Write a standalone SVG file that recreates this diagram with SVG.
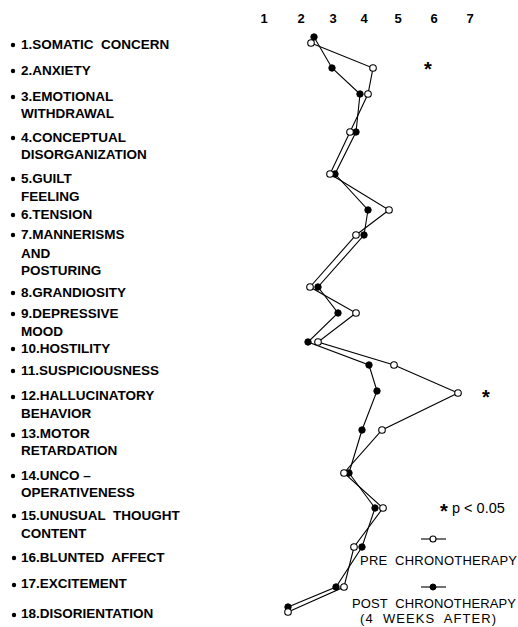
<svg xmlns="http://www.w3.org/2000/svg" width="518" height="627" viewBox="0 0 518 627">
<style>
text{font-family:"Liberation Sans",Arial,sans-serif;fill:#000}
.lbl{font-size:13.5px;font-weight:bold}
.ax{font-size:13px;font-weight:bold}
.lg{font-size:13px}
.star{font-size:20px;font-weight:bold}
.bul{fill:#000}
.line{fill:none;stroke:#000;stroke-width:1.1}
.op{fill:#fff;stroke:#000;stroke-width:1.1}
.fi{fill:#000;stroke:#000;stroke-width:1}
</style>
<rect width="518" height="627" fill="#fff"/>
<g id="axis">
<text class="ax" x="264" y="23" text-anchor="middle">1</text>
<text class="ax" x="301" y="23" text-anchor="middle">2</text>
<text class="ax" x="333" y="23" text-anchor="middle">3</text>
<text class="ax" x="364" y="23" text-anchor="middle">4</text>
<text class="ax" x="398" y="23" text-anchor="middle">5</text>
<text class="ax" x="434" y="23" text-anchor="middle">6</text>
<text class="ax" x="470" y="23" text-anchor="middle">7</text>
</g>
<g id="labels">
<g id="item1"><circle class="bul" cx="13" cy="45" r="2.2"/><text class="lbl" x="21" y="49" xml:space="preserve">1.SOMATIC  CONCERN</text></g>
<g id="item2"><circle class="bul" cx="13" cy="71" r="2.2"/><text class="lbl" x="21" y="75">2.ANXIETY</text></g>
<g id="item3"><circle class="bul" cx="13" cy="97" r="2.2"/><text class="lbl" x="21" y="101">3.EMOTIONAL</text><text class="lbl" x="21" y="118">WITHDRAWAL</text></g>
<g id="item4"><circle class="bul" cx="13" cy="138" r="2.2"/><text class="lbl" x="21" y="142">4.CONCEPTUAL</text><text class="lbl" x="21" y="159">DISORGANIZATION</text></g>
<g id="item5"><circle class="bul" cx="13" cy="179" r="2.2"/><text class="lbl" x="21" y="183">5.GUILT</text><text class="lbl" x="21" y="201">FEELING</text></g>
<g id="item6"><circle class="bul" cx="13" cy="215" r="2.2"/><text class="lbl" x="21" y="219">6.TENSION</text></g>
<g id="item7"><circle class="bul" cx="13" cy="235" r="2.2"/><text class="lbl" x="21" y="239">7.MANNERISMS</text><text class="lbl" x="21" y="258">AND</text><text class="lbl" x="21" y="275">POSTURING</text></g>
<g id="item8"><circle class="bul" cx="13" cy="293" r="2.2"/><text class="lbl" x="21" y="297">8.GRANDIOSITY</text></g>
<g id="item9"><circle class="bul" cx="13" cy="314" r="2.2"/><text class="lbl" x="21" y="318">9.DEPRESSIVE</text><text class="lbl" x="21" y="336">MOOD</text></g>
<g id="item10"><circle class="bul" cx="13" cy="349" r="2.2"/><text class="lbl" x="21" y="353">10.HOSTILITY</text></g>
<g id="item11"><circle class="bul" cx="13" cy="371" r="2.2"/><text class="lbl" x="21" y="375">11.SUSPICIOUSNESS</text></g>
<g id="item12"><circle class="bul" cx="13" cy="397" r="2.2"/><text class="lbl" x="21" y="400">12.HALLUCINATORY</text><text class="lbl" x="21" y="418">BEHAVIOR</text></g>
<g id="item13"><circle class="bul" cx="13" cy="435" r="2.2"/><text class="lbl" x="21" y="438">13.MOTOR</text><text class="lbl" x="21" y="455">RETARDATION</text></g>
<g id="item14"><circle class="bul" cx="13" cy="476" r="2.2"/><text class="lbl" x="21" y="480">14.UNCO –</text><text class="lbl" x="21" y="497">OPERATIVENESS</text></g>
<g id="item15"><circle class="bul" cx="14" cy="516" r="2.2"/><text class="lbl" x="21" y="520" xml:space="preserve">15.UNUSUAL  THOUGHT</text><text class="lbl" x="21" y="538">CONTENT</text></g>
<g id="item16"><circle class="bul" cx="14" cy="558" r="2.2"/><text class="lbl" x="21" y="562" xml:space="preserve">16.BLUNTED  AFFECT</text></g>
<g id="item17"><circle class="bul" cx="14" cy="585" r="2.2"/><text class="lbl" x="21" y="588">17.EXCITEMENT</text></g>
<g id="item18"><circle class="bul" cx="14" cy="615" r="2.2"/><text class="lbl" x="21" y="618">18.DISORIENTATION</text></g>
</g>
<g id="connectors">
<polyline id="pre-line" class="line" points="311,43 373,68 368,94 350,132 330,174 389,210 356,235 310,287 356,313 318,342 394,365 458,393 382,430 344,473 383,508 354,547 344,587 288,612"/>
<polyline id="post-line" class="line" points="314,37 332,68 360,94 356,132 335,174 368,210 364,235 318,287 338,313 308,342 369,365 377,391 362,430 349,473 375,508 362,547 336,587 288,607"/>
</g>
<g id="post-markers">
<circle class="fi" cx="314" cy="37" r="3.2"/><circle class="fi" cx="332" cy="68" r="3.2"/><circle class="fi" cx="360" cy="94" r="3.2"/><circle class="fi" cx="356" cy="132" r="3.2"/><circle class="fi" cx="335" cy="174" r="3.2"/><circle class="fi" cx="368" cy="210" r="3.2"/><circle class="fi" cx="364" cy="235" r="3.2"/><circle class="fi" cx="318" cy="287" r="3.2"/><circle class="fi" cx="338" cy="313" r="3.2"/><circle class="fi" cx="308" cy="342" r="3.2"/><circle class="fi" cx="369" cy="365" r="3.2"/><circle class="fi" cx="377" cy="391" r="3.2"/><circle class="fi" cx="362" cy="430" r="3.2"/><circle class="fi" cx="349" cy="473" r="3.2"/><circle class="fi" cx="375" cy="508" r="3.2"/><circle class="fi" cx="362" cy="547" r="3.2"/><circle class="fi" cx="336" cy="587" r="3.2"/><circle class="fi" cx="288" cy="607" r="3.2"/>
</g>
<g id="pre-markers">
<circle class="op" cx="311" cy="43" r="3.3"/><circle class="op" cx="373" cy="68" r="3.3"/><circle class="op" cx="368" cy="94" r="3.3"/><circle class="op" cx="350" cy="132" r="3.3"/><circle class="op" cx="330" cy="174" r="3.3"/><circle class="op" cx="389" cy="210" r="3.3"/><circle class="op" cx="356" cy="235" r="3.3"/><circle class="op" cx="310" cy="287" r="3.3"/><circle class="op" cx="356" cy="313" r="3.3"/><circle class="op" cx="318" cy="342" r="3.3"/><circle class="op" cx="394" cy="365" r="3.3"/><circle class="op" cx="458" cy="393" r="3.3"/><circle class="op" cx="382" cy="430" r="3.3"/><circle class="op" cx="344" cy="473" r="3.3"/><circle class="op" cx="383" cy="508" r="3.3"/><circle class="op" cx="354" cy="547" r="3.3"/><circle class="op" cx="344" cy="587" r="3.3"/><circle class="op" cx="288" cy="612" r="3.3"/>
</g>
<g id="significance">
<text class="star" x="428" y="76" text-anchor="middle">*</text>
<text class="star" x="486" y="404" text-anchor="middle">*</text>
</g>
<g id="legend">
<text class="star" x="440" y="518">*</text>
<text class="lg" x="452" y="513" style="font-size:14.5px">p &lt; 0.05</text>
<line class="line" x1="421" y1="539" x2="446" y2="539"/><circle class="op" cx="433" cy="539" r="3"/>
<text class="lg" x="360" y="565" textLength="157" xml:space="preserve">PRE  CHRONOTHERAPY</text>
<line class="line" x1="421" y1="587" x2="446" y2="587"/><circle class="fi" cx="433" cy="587" r="3"/>
<text class="lg" x="352" y="608" textLength="164" xml:space="preserve">POST  CHRONOTHERAPY</text>
<text class="lg" x="360" y="623" textLength="136" xml:space="preserve">(4  WEEKS  AFTER)</text>
</g>
</svg>
